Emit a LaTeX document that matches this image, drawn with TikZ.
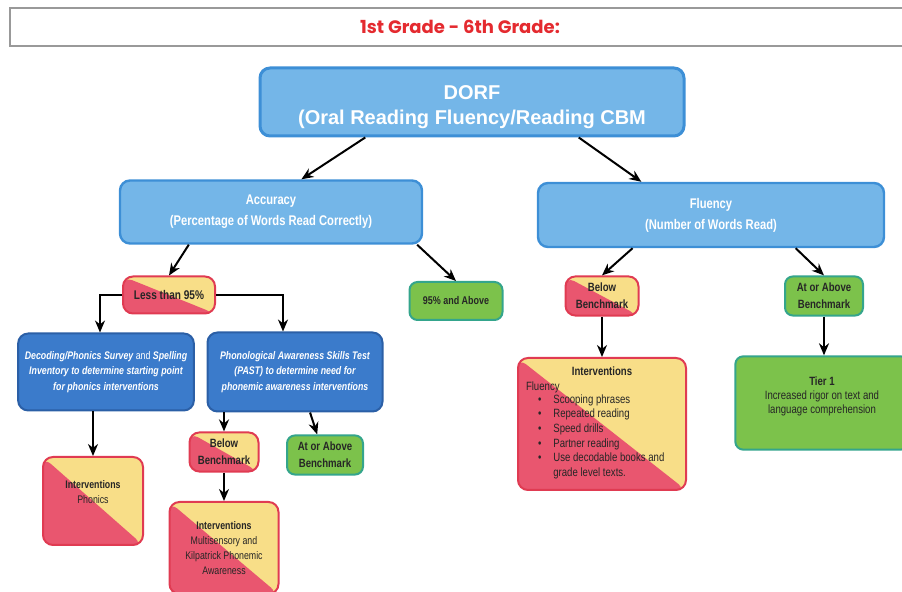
\documentclass[tikz,border=0pt]{standalone}
\usepackage{fontspec}
\setmainfont{Liberation Sans}
\newfontfamily\nfont{Liberation Sans}[FakeStretch=0.8]
\newfontfamily\gradefont{Poppins}
\usetikzlibrary{arrows.meta,calc}
\definecolor{sky}{HTML}{74B6E8}
\definecolor{skyedge}{HTML}{3D8FD6}
\definecolor{navy}{HTML}{3B7BCB}
\definecolor{navyedge}{HTML}{2B5FA6}
\definecolor{rose}{HTML}{E9566F}
\definecolor{roseedge}{HTML}{E03B52}
\definecolor{lemon}{HTML}{F8DE88}
\definecolor{grass}{HTML}{7CC24B}
\definecolor{grassedge}{HTML}{34A58C}
\definecolor{ink}{HTML}{262626}
\definecolor{gradered}{HTML}{E42A2F}
\tikzset{
  arr/.style={-{Stealth[length=6pt,width=5pt]},line width=1pt},
  lightbox/.style={draw=skyedge,fill=sky,line width=1.5pt,rounded corners=5pt,text=white,align=center},
  darkbox/.style={draw=navyedge,fill=navy,line width=1pt,rounded corners=5pt,text=white,align=center,
    font=\nfont\fontsize{5.5}{7.75}\selectfont\bfseries\itshape},
  splitbox/.style={draw=roseedge,fill=lemon,line width=1pt,rounded corners=5pt,text=ink,align=center,
    path picture={\fill[rose] (path picture bounding box.north west) -- (path picture bounding box.south west)
      -- (path picture bounding box.south east) -- cycle;}},
  greenbox/.style={draw=grassedge,fill=grass,line width=1pt,rounded corners=4pt,text=ink,align=center},
}
\begin{document}
\begin{tikzpicture}[x=0.5pt,y=-0.5pt]
\useasboundingbox (0,0) rectangle (902,592);
% heading bar
\node[draw=gray!80,line width=0.8pt,minimum width=450pt,minimum height=19pt,text=gradered,
  font=\gradefont\fontsize{9}{10}\selectfont\bfseries] (title) at (460,27) {1st Grade - 6th Grade:};
% top level
\node[lightbox,minimum width=212pt,minimum height=34pt,text height=25pt,font=\bfseries\fontsize{10}{12.5}\selectfont]
  (dorf) at (472,102) {DORF\\(Oral Reading Fluency/Reading CBM};
\node[lightbox,line width=1.2pt,minimum width=151pt,minimum height=31.5pt,font=\nfont\fontsize{7}{10.5}\selectfont\bfseries]
  (acc) at (271,212) {Accuracy\\(Percentage of Words Read Correctly)};
\node[lightbox,line width=1.2pt,minimum width=173pt,minimum height=32pt,font=\nfont\fontsize{7}{10.5}\selectfont\bfseries]
  (flu) at (711,215) {Fluency\\(Number of Words Read)};
% accuracy branch
\node[splitbox,minimum width=46pt,minimum height=18.5pt,font=\nfont\fontsize{6.3}{8}\selectfont\bfseries]
  (less) at (169,295) {Less than 95\%};
\node[greenbox,minimum width=46.5pt,minimum height=19pt,font=\nfont\fontsize{5.6}{7}\selectfont\bfseries]
  (above95) at (456,301) {95\% and Above};
\node[darkbox,minimum width=86.5pt,minimum height=38.5pt] (decod) at (106,372)
  {Decoding/Phonics Survey {\mdseries\upshape and} Spelling\\Inventory to determine starting point\\for phonics interventions};
\node[darkbox,minimum width=87.5pt,minimum height=39.5pt] (past) at (295,372)
  {Phonological Awareness Skills Test\\(PAST) to determine need for\\phonemic awareness interventions};
\node[splitbox,minimum width=50pt,minimum height=44pt,font=\nfont\fontsize{5.5}{7.5}\selectfont]
  (phon) at (93,501) {\textbf{Interventions}\\Phonics\\[1pt]};
\node[splitbox,minimum width=34.5pt,minimum height=18.5pt,font=\nfont\fontsize{6}{8.5}\selectfont\bfseries]
  (belowA) at (224,452) {Below\\Benchmark};
\node[greenbox,minimum width=38pt,minimum height=18.5pt,font=\nfont\fontsize{6}{8.5}\selectfont\bfseries]
  (atA) at (325,455) {At or Above\\Benchmark};
\node[splitbox,minimum width=54.5pt,minimum height=46pt,font=\nfont\fontsize{5.5}{7.5}\selectfont]
  (multi) at (224,548) {\textbf{Interventions}\\Multisensory and\\Kilpatrick Phonemic\\Awareness};
% fluency branch
\node[splitbox,minimum width=36.5pt,minimum height=17.5pt,font=\nfont\fontsize{6}{8.5}\selectfont\bfseries]
  (belowF) at (602,296) {Below\\Benchmark};
\node[greenbox,minimum width=39pt,minimum height=18.5pt,font=\nfont\fontsize{6}{8.5}\selectfont\bfseries]
  (atF) at (824,296) {At or Above\\Benchmark};
\node[splitbox,minimum width=84pt,minimum height=66pt,font=\nfont\fontsize{6}{7.35}\selectfont] (intF) at (602,424)
  {\parbox{76pt}{\centerline{\bfseries Interventions}
   Fluency\\[-1pt]
   \begin{tabular}{@{\hspace{6pt}}c@{\hspace{6pt}}l@{}}
   \textbullet & Scooping phrases\\
   \textbullet & Repeated reading\\
   \textbullet & Speed drills\\
   \textbullet & Partner reading\\
   \textbullet & Use decodable books and\\
               & grade level texts.
   \end{tabular}}};
\node[greenbox,minimum width=84pt,minimum height=45pt,font=\nfont\fontsize{6}{7}\selectfont] (tier) at (822,403)
  {\parbox[c][40pt][t]{80pt}{\centering\vspace*{7pt}\textbf{Tier 1}\\Increased rigor on text and\\language comprehension}};
% connectors
\draw[arr] ($(dorf.south west)!0.25!(dorf.south east)$) -- ($(acc.north west)!0.6!(acc.north east)$);
\draw[arr] ($(dorf.south west)!0.75!(dorf.south east)$) -- ($(flu.north west)!0.3!(flu.north east)$);
\draw[arr] ($(acc.south west)!0.23!(acc.south east)$) -- (less.north);
\draw[arr] ($(acc.south west)!0.98!(acc.south east)$) -- (above95.north);
\draw[arr] (less.west) -| ([xshift=-3pt]decod.north);
\draw[arr] (less.east) -| ([xshift=-6pt]past.north);
\draw[arr] (decod.south -| phon.north) -- (phon.north);
\draw[arr] (past.south -| belowA.north) -- (belowA.north);
\draw[arr] ($(past.south west)!0.585!(past.south east)$) -- ($(atA.north west)!0.4!(atA.north east)$);
\draw[arr] (belowA.south) -- (multi.north);
\draw[arr] ($(flu.south west)!0.275!(flu.south east)$) -- (belowF.north);
\draw[arr] ($(flu.south west)!0.743!(flu.south east)$) -- (atF.north);
\draw[arr] (belowF.south) -- (intF.north);
\draw[arr] (atF.south) -- (atF.south |- tier.north);
\end{tikzpicture}
\end{document}
